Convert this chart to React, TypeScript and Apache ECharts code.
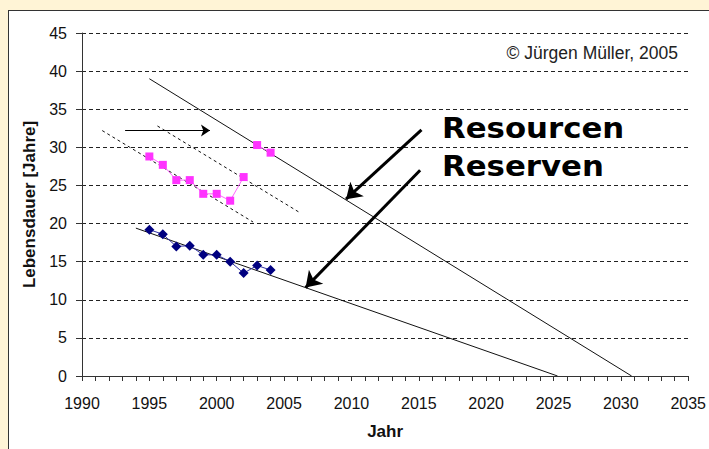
import React, { useEffect, useRef } from "react";
import * as echarts from "echarts";

const years = [1995, 1996, 1997, 1998, 1999, 2000, 2001, 2002, 2003, 2004];
const reserven = [19.2, 18.6, 17.0, 17.1, 15.9, 15.9, 15.0, 13.5, 14.5, 13.9];
const resourcen = [28.8, 27.7, 25.7, 25.7, 23.9, 23.9, 23.0, 26.1, 30.3, 29.3];

const reservenTrend = [[1994, 19.4], [2025.3, 0]];
const resourcenTrend = [[1995, 39.0], [2030.8, 0]];
const shiftLine1 = [[1991.5, 32.2], [2002.7, 20.2]];
const shiftLine2 = [[1995.6, 32.8], [2006.2, 21.4]];
const shiftArrow = [[1993.2, 32.2], [1999.5, 32.2]];
const resourcenArrow = [[2015.2, 32.3], [2009.6, 23.2]];
const reservenArrow = [[2015.1, 27.0], [2006.6, 11.6]];

const xTicks = ["1990", "1995", "2000", "2005", "2010", "2015", "2020", "2025", "2030", "2035"];

const FONT = "'Liberation Sans', Arial, sans-serif";

export default function App() {
  const ref = useRef<HTMLDivElement>(null);
  useEffect(() => {
    if (!ref.current) return;
    const chart = echarts.init(ref.current, null, { renderer: "svg" });
    const pts = (ys: number[], from: number, to: number) =>
      years.slice(from, to).map((y, i) => [y, ys[from + i]]);
    const arrowLine = (p: number[][], w: number, size: number) => ({
      silent: true,
      symbol: ["none", "arrow"],
      symbolSize: size,
      label: { show: false },
      lineStyle: { color: "#000", width: w, type: "solid" },
      emphasis: { disabled: true },
      data: [[{ coord: p[0] }, { coord: p[1] }]],
    });
    chart.setOption({
      animation: false,
      backgroundColor: "#ffffff",
      grid: { left: 73, top: 22, right: 19, bottom: 73 },
      xAxis: {
        type: "value",
        min: 1990,
        max: 2035,
        interval: 5,
        name: "Jahr",
        nameLocation: "middle",
        nameGap: 47,
        nameTextStyle: { fontFamily: FONT, fontWeight: "bold", fontSize: 17, color: "#111" },
        axisLine: { show: true, lineStyle: { color: "#333", width: 1 } },
        axisTick: { show: true, length: 5, lineStyle: { color: "#333" } },
        minorTick: { show: true, splitNumber: 5, length: 5, lineStyle: { color: "#333" } },
        splitLine: { show: false },
        axisLabel: {
          fontFamily: FONT,
          fontSize: 16,
          color: "#111",
          margin: 19,
          formatter: (v: number) => xTicks[Math.round((v - 1990) / 5)] ?? String(v),
        },
      },
      yAxis: {
        type: "value",
        min: 0,
        max: 45,
        interval: 5,
        name: "Lebensdauer [Jahre]",
        nameLocation: "middle",
        nameGap: 43,
        nameTextStyle: { fontFamily: FONT, fontWeight: "bold", fontSize: 17, color: "#111" },
        axisLine: { show: true, lineStyle: { color: "#333", width: 1 } },
        axisTick: { show: true, length: 6, lineStyle: { color: "#333" } },
        splitLine: { show: true, lineStyle: { color: "#222", width: 1, type: [4, 3] } },
        axisLabel: { fontFamily: FONT, fontSize: 16, color: "#111", margin: 15 },
      },
      series: [
        {
          type: "line",
          data: reservenTrend,
          showSymbol: false,
          silent: true,
          lineStyle: { color: "#111", width: 1 },
          markLine: arrowLine(reservenArrow, 3, 15),
        },
        {
          type: "line",
          data: resourcenTrend,
          showSymbol: false,
          silent: true,
          lineStyle: { color: "#111", width: 1 },
          markLine: arrowLine(resourcenArrow, 3, 15),
        },
        {
          type: "line",
          data: shiftLine1,
          showSymbol: false,
          silent: true,
          lineStyle: { color: "#111", width: 1, type: [3, 3] },
        },
        {
          type: "line",
          data: shiftLine2,
          showSymbol: false,
          silent: true,
          lineStyle: { color: "#111", width: 1, type: [3, 3] },
          markLine: arrowLine(shiftArrow, 1, 9),
        },
        {
          name: "Reserven",
          type: "line",
          data: pts(reserven, 0, 10),
          symbol: "diamond",
          symbolSize: 10,
          itemStyle: { color: "#000080" },
          lineStyle: { color: "#3030a0", width: 1 },
          z: 5,
        },
        {
          name: "Resourcen",
          type: "line",
          data: pts(resourcen, 0, 8),
          symbol: "rect",
          symbolSize: 8,
          itemStyle: { color: "#ff33ff" },
          lineStyle: { color: "#ff66ff", width: 1 },
          z: 5,
        },
        {
          name: "Resourcen",
          type: "line",
          data: pts(resourcen, 8, 10),
          symbol: "rect",
          symbolSize: 8,
          itemStyle: { color: "#ff33ff" },
          lineStyle: { color: "#ff66ff", width: 1 },
          z: 5,
        },
      ],
      graphic: [
        {
          type: "text",
          x: 433,
          y: 117,
          scaleX: 1.1,
          style: {
            text: "Resourcen",
            fontFamily: "'DejaVu Sans', Verdana, sans-serif",
            fontWeight: "bold",
            fontSize: 28,
            fill: "#000",
            verticalAlign: "middle",
            align: "left",
          },
        },
        {
          type: "text",
          x: 433,
          y: 155,
          scaleX: 1.1,
          style: {
            text: "Reserven",
            fontFamily: "'DejaVu Sans', Verdana, sans-serif",
            fontWeight: "bold",
            fontSize: 28,
            fill: "#000",
            verticalAlign: "middle",
            align: "left",
          },
        },
        {
          type: "text",
          x: 669,
          y: 42,
          style: {
            text: "© Jürgen Müller, 2005",
            fontFamily: FONT,
            fontSize: 17.5,
            fill: "#222",
            verticalAlign: "middle",
            align: "right",
          },
        },
      ],
    });
    return () => chart.dispose();
  }, []);
  return (
    <div
      style={{
        position: "absolute",
        left: 0,
        top: 0,
        width: 709,
        height: 449,
        background: "#fff4d6",
        overflow: "hidden",
      }}
    >
      <div
        ref={ref}
        style={{
          position: "absolute",
          left: 8,
          top: 10,
          width: 701,
          height: 439,
          boxSizing: "border-box",
          borderLeft: "1px solid #333",
          borderTop: "1px solid #333",
          background: "#fff",
        }}
      />
    </div>
  );
}
